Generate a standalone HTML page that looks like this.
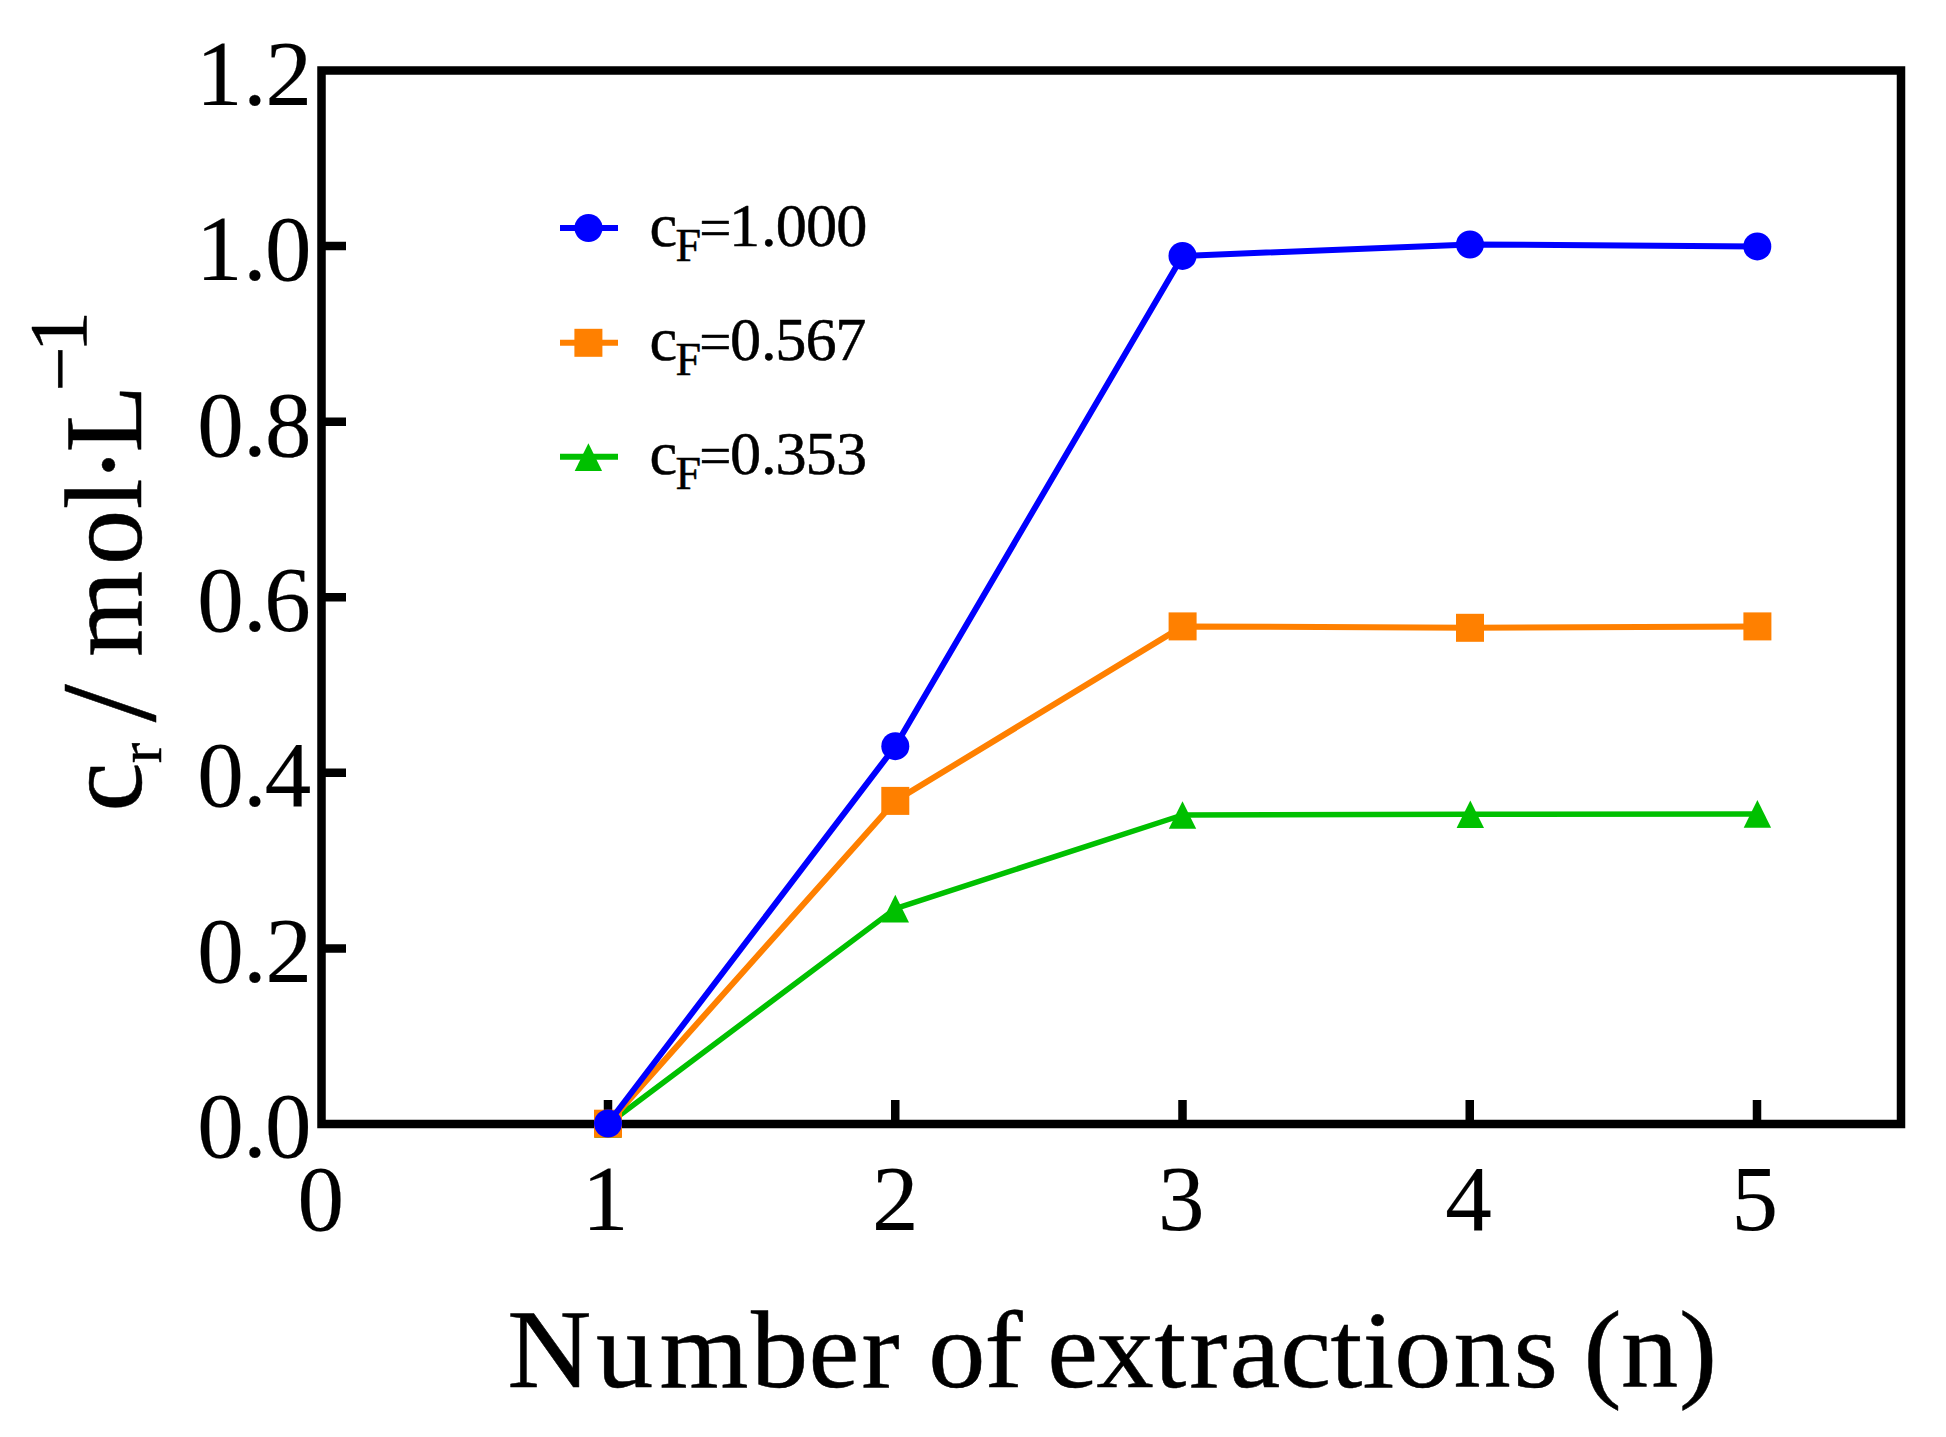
<!DOCTYPE html>
<html>
<head>
<meta charset="utf-8">
<style>
html,body{margin:0;padding:0;background:#fff;}
svg{display:block;}
text{font-family:"Liberation Serif",serif;fill:#000;font-kerning:none;}
.t{stroke:#000;stroke-width:0.5;stroke-linejoin:round;}
.d{stroke:#000;stroke-width:0.2;stroke-linejoin:round;}
</style>
</head>
<body>
<svg width="1946" height="1437" viewBox="0 0 1946 1437">
<rect x="0" y="0" width="1946" height="1437" fill="#fff"/>
<g stroke="#000" stroke-width="8.5" fill="none">
<path d="M321.5 948.4H346M321.5 772.8H346M321.5 597.3H346M321.5 421.7H346M321.5 246.1H346"/>
<path d="M608 1124V1100M895.25 1124V1100M1182.5 1124V1100M1469.75 1124V1100M1757 1124V1100"/>
<rect x="321.5" y="70.5" width="1579.5" height="1053.5"/>
</g>
<g><polyline points="608,1124 895.3,908.6 1182.5,815 1470.3,814.2 1757.4,813.9" fill="none" stroke="#00c000" stroke-width="5.5" stroke-linejoin="round" stroke-linecap="round"/><path d="M608 1110.2L621.7 1137.8H594.3Z" fill="#00c000"/><path d="M895.3 894.8L909 922.4H881.6Z" fill="#00c000"/><path d="M1182.5 801.2L1196.2 828.8H1168.8Z" fill="#00c000"/><path d="M1470.3 800.4L1484 828H1456.6Z" fill="#00c000"/><path d="M1757.4 800.1L1771.1 827.7H1743.7Z" fill="#00c000"/></g>
<g><polyline points="608,1123.7 895.3,800.9 1182.6,626.4 1470,627.8 1757.4,626.4" fill="none" stroke="#ff8000" stroke-width="6" stroke-linejoin="round" stroke-linecap="round"/><rect x="594" y="1109.7" width="28" height="28" fill="#ff8000"/><rect x="881.3" y="786.9" width="28" height="28" fill="#ff8000"/><rect x="1168.6" y="612.4" width="28" height="28" fill="#ff8000"/><rect x="1456" y="613.8" width="28" height="28" fill="#ff8000"/><rect x="1743.4" y="612.4" width="28" height="28" fill="#ff8000"/></g>
<g><polyline points="608,1123.5 895.3,746.2 1182.5,255.9 1470,244.5 1757.3,246.4" fill="none" stroke="#0000ff" stroke-width="6" stroke-linejoin="round" stroke-linecap="round"/><circle cx="608" cy="1123.5" r="14" fill="#0000ff"/><circle cx="895.3" cy="746.2" r="14" fill="#0000ff"/><circle cx="1182.5" cy="255.9" r="14" fill="#0000ff"/><circle cx="1470" cy="244.5" r="14" fill="#0000ff"/><circle cx="1757.3" cy="246.4" r="14" fill="#0000ff"/></g>
<g stroke-width="6">
<line x1="560" y1="228" x2="618" y2="228" stroke="#0000ff"/>
<circle cx="588.5" cy="228" r="14" fill="#0000ff"/>
<line x1="560" y1="342.8" x2="618" y2="342.8" stroke="#ff8000"/>
<rect x="574.4" y="328.8" width="28" height="28" fill="#ff8000"/>
<line x1="560" y1="456.7" x2="618" y2="456.7" stroke="#00c000"/>
<path d="M588.4 443.3L602.1 470.9H574.7Z" fill="#00c000"/>
</g>
<g class="d">
<text x="195.96 243.18 265.47" y="105" font-size="93">1.2</text>
<text x="195.96 243.18 264.95" y="280.4" font-size="93">1.0</text>
<text x="197.25 243.18 264.95" y="455.7" font-size="93">0.8</text>
<text x="197.25 243.18 264.34" y="631.1" font-size="93">0.6</text>
<text x="197.25 243.18 264.77" y="806.4" font-size="93">0.4</text>
<text x="197.25 243.18 265.47" y="981.8" font-size="93">0.2</text>
<text x="197.25 243.18 264.95" y="1157.2" font-size="93">0.0</text>
<text x="297.45" y="1230.3" font-size="93">0</text>
<text x="582.11" y="1230.3" font-size="93">1</text>
<text x="871.97" y="1230.3" font-size="93">2</text>
<text x="1158.04" y="1230.3" font-size="93">3</text>
<text x="1445.17" y="1230.3" font-size="93">4</text>
<text x="1731.46" y="1230.3" font-size="93">5</text>
</g>
<text class="t" y="1386.6" font-size="110" transform="scale(1.04 1)"><tspan x="487.64" font-size="112">N</tspan><tspan x="573.1 634.04 722.09 777.41 828.28 864.91 892.55 946.72 983.35 1007.03 1054.37 1110.03 1143.42 1182.15 1231 1279.26 1310.09 1340.58 1397.55 1455.39 1498.2 1522.53 1558.66 1614.44">umber of extractions (n)</tspan></text>
<text class="t" transform="translate(140.8 806.6) rotate(-90)"><tspan x="-4.93" y="0" font-size="110.5">c</tspan><tspan x="43.48" y="20.1" font-size="62">r</tspan> <tspan x="84.27" y="14.64" font-size="136.6">/</tspan> <tspan x="149.93" y="0" font-size="110.5">m</tspan><tspan x="241.57" y="0" font-size="110.5">o</tspan><tspan x="297.25" y="0" font-size="110.5">l</tspan><tspan x="323.4" y="4.6" font-size="110.5">·</tspan><tspan x="354.08" y="0" font-size="110.5">L</tspan><tspan x="415.2" y="-53.39" font-size="80">−</tspan><tspan x="454.09" y="-55.3" font-size="83.2">1</tspan></text>
<text class="t" font-size="62.3"><tspan x="649.5" y="246.2">c</tspan><tspan x="675.53" y="261.1" font-size="46">F</tspan><tspan x="699.35" y="246.92" font-size="57">=</tspan><tspan x="729.06 761.11 775.72 806.02 836.32" y="246.2">1.000</tspan></text>
<text class="t" font-size="62.3"><tspan x="649.5" y="360">c</tspan><tspan x="675.53" y="374.9" font-size="46">F</tspan><tspan x="699.35" y="360.72" font-size="57">=</tspan><tspan x="729.92 761.11 775.13 805.61 835.17" y="360">0.567</tspan></text>
<text class="t" font-size="62.3"><tspan x="649.5" y="474.3">c</tspan><tspan x="675.53" y="489.2" font-size="46">F</tspan><tspan x="699.35" y="475.02" font-size="57">=</tspan><tspan x="729.92 761.11 775.45 805.43 836.05" y="474.3">0.353</tspan></text>
</svg>
</body>
</html>
